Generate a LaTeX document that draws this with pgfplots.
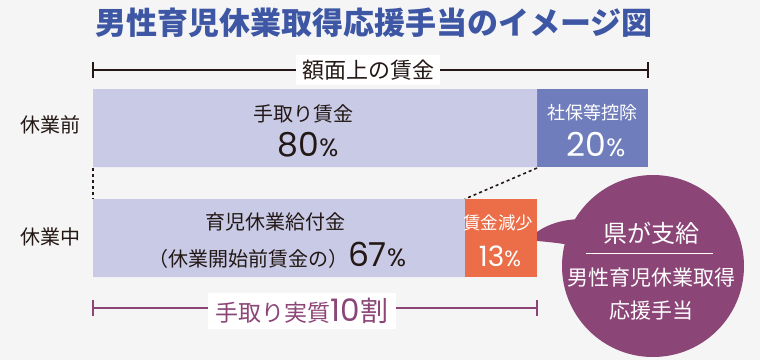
\documentclass[border=0pt]{standalone}
\usepackage{pgfplots}
\pgfplotsset{compat=1.18}
\usepackage{fontspec}
\setmainfont{Noto Sans CJK JP}
\newfontfamily\numfont{Poppins}
\definecolor{bgc}{HTML}{F5F5F5}
\definecolor{lav}{HTML}{C9CAE6}
\definecolor{blu}{HTML}{6F7DBC}
\definecolor{org}{HTML}{EC6E48}
\definecolor{pur}{HTML}{8B4577}
\definecolor{ttl}{HTML}{3E57A4}
\definecolor{txt}{HTML}{231815}
\newcommand{\fs}[1]{\fontsize{#1}{#1}\selectfont}
\begin{document}
\begin{tikzpicture}
\begin{axis}[scale only axis, width=760pt, height=360pt,
  xmin=-16.757, xmax=120.18, ymin=0, ymax=360, y dir=reverse,
  axis line style={draw=none}, xtick=\empty, ytick=\empty,
  axis background/.style={fill=bgc},
  clip=false, xbar stacked, bar width=78pt]
% bars
\addplot[fill=lav, draw=none] coordinates {(80,128) (67,238)};
\addplot[fill=blu, draw=none] coordinates {(20,128) (0,238)};
\addplot[fill=org, draw=none] coordinates {(0,128) (13,238)};
% lines
\draw[line width=2pt, txt] (axis cs:0,70) -- (axis cs:100,70);
\draw[line width=2pt, txt] (axis cs:0,62) -- (axis cs:0,78);
\draw[line width=2pt, txt] (axis cs:100,62) -- (axis cs:100,78);
\draw[line width=1.6pt, txt, dash pattern=on 3pt off 3pt] (axis cs:0,168) -- (axis cs:0,199);
\draw[line width=1.6pt, txt, dash pattern=on 3pt off 3pt] (axis cs:80,168) -- (axis cs:67,199);
\draw[line width=2pt, pur] (axis cs:0,308) -- (axis cs:80,308);
\draw[line width=2pt, pur] (axis cs:0,300) -- (axis cs:0,316);
\draw[line width=2pt, pur] (axis cs:80,300) -- (axis cs:80,316);
% speech bubble
\fill[pur] (axis cs:100.9,266) circle[radius=91pt];
\fill[pur] (axis cs:78.2,240) .. controls (axis cs:80.5,228) and (axis cs:83.2,220) .. (axis cs:87.7,219)
  -- (axis cs:90,219) -- (axis cs:90,247) -- (axis cs:87.7,247) .. controls (axis cs:84,243) .. cycle;
\coordinate (TL) at (axis cs:-16.757,0);
\end{axis}
\begin{scope}[shift={(TL)}, x=1pt, y=-1pt]
\draw[white, line width=0.8pt] (586,253) -- (713,253);
\node[font=\fs{31}\bfseries, text=ttl] at (374,23) {男性育児休業取得応援手当のイメージ図};
\node[fill=white, inner xsep=6pt, inner ysep=5pt, font=\fs{22}, text=txt] at (368,70) {額面上の賃金};
\node[font=\fs{20}, text=txt] at (50,125) {休業前};
\node[font=\fs{20}, text=txt] at (50,237) {休業中};
\node[font=\fs{20}, text=txt] at (303,114) {手取り賃金};
\node[font=\fs{33}\numfont, text=txt] at (308,145) {80{\fs{25}\%}};
\node[font=\fs{18}, text=white] at (592,113) {社保等控除};
\node[font=\fs{33}\numfont, text=white] at (596,145) {20{\fs{25}\%}};
\node[font=\fs{20}, text=txt] at (275,222) {育児休業給付金};
\node[font=\fs{20}, text=txt] at (277,255) {（休業開始前賃金の）{\numfont\fs{33}67{\fs{25}\%}}};
\node[font=\fs{17.5}, text=white] at (498,223) {賃金減少};
\node[font=\fs{28}\numfont, text=white] at (500,256) {13{\fs{22}\%}};
\node[fill=white, inner xsep=8pt, inner ysep=5pt, text=pur] at (302,311) {{\fs{23}手取り実質}{\numfont\fs{31}10}{\fs{28}割}};
\node[font=\fs{24}, text=white] at (651,233) {県が支給};
\node[font=\fs{21}, text=white] at (651,278) {男性育児休業取得};
\node[font=\fs{21}, text=white] at (651,311) {応援手当};
\end{scope}
\end{tikzpicture}
\end{document}
